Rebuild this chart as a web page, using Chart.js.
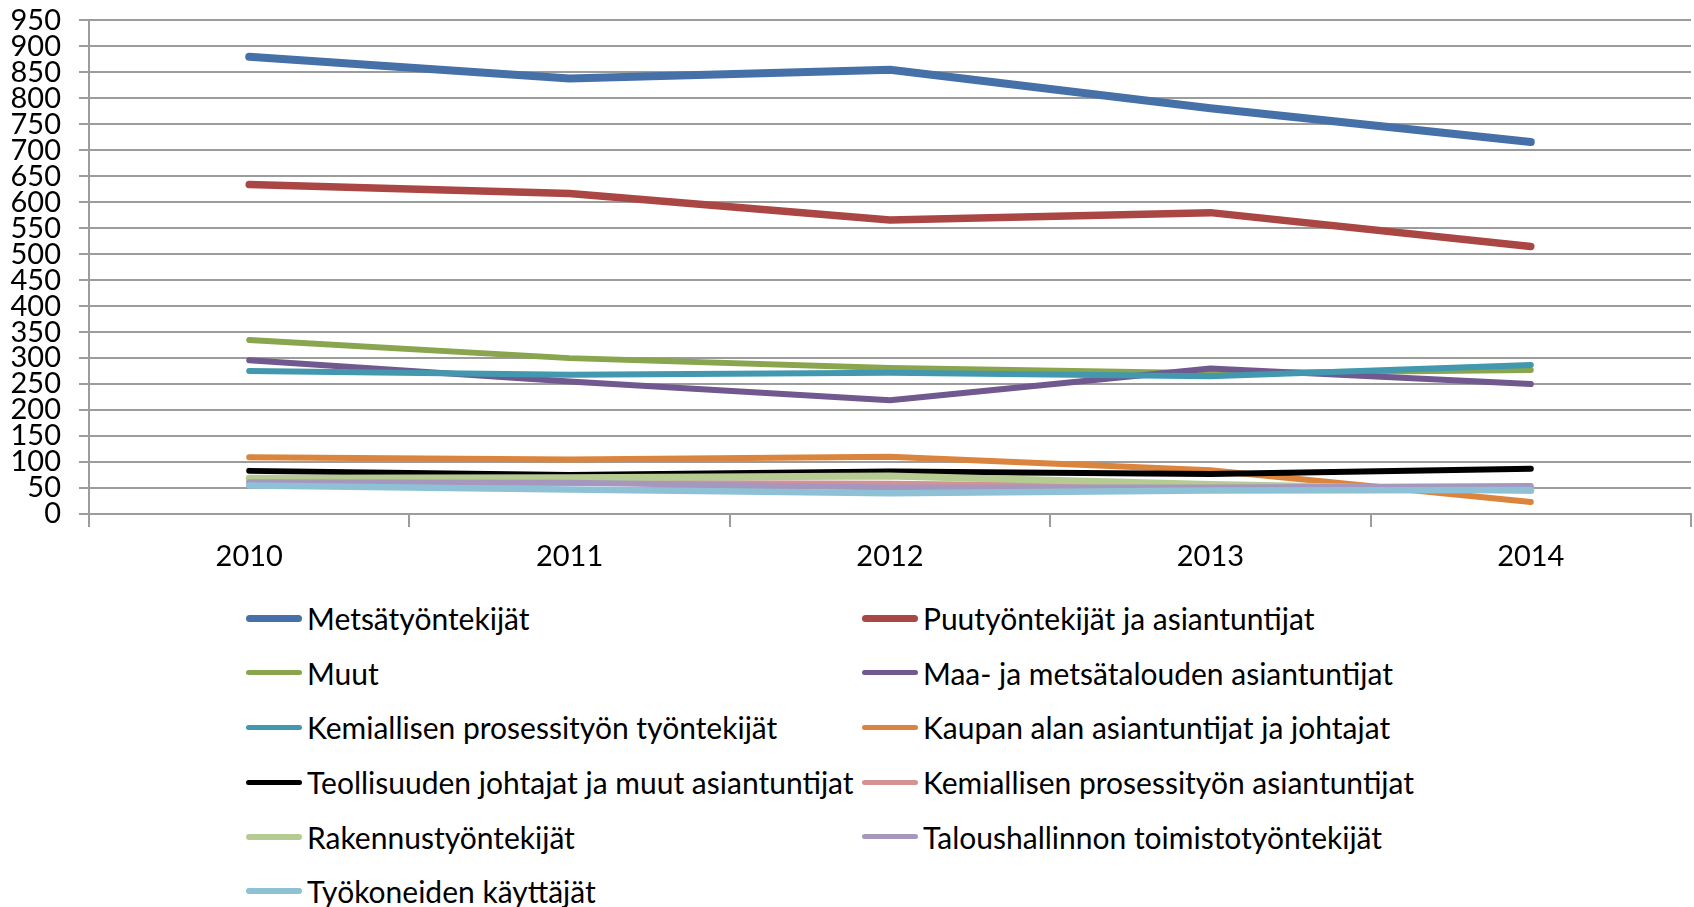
<!DOCTYPE html>
<html>
<head>
<meta charset="utf-8">
<script src="https://cdn.jsdelivr.net/npm/chart.js@4/dist/chart.umd.min.js"></script>
<style>
  html, body { margin: 0; padding: 0; background: #fff; }
  #wrap { position: relative; width: 1694px; height: 907px; overflow: hidden; }
  #chart-box { position: absolute; left: 0; top: -15px; width: 1694px; height: 605px; }
  #legend {
    position: absolute; left: 246px; top: 591px;
    display: grid; grid-template-columns: 616px auto; grid-auto-rows: 54.6px;
    font-family: Lato, sans-serif; font-size: 30px; color: #000;
  }
  .leg-item { display: flex; align-items: center; white-space: nowrap; }
  .leg-line { width: 56px; border-radius: 4px; margin-right: 5px; }
</style>
</head>
<body>
<div id="wrap">
  <div id="chart-box"><canvas id="lineChart"></canvas></div>
  <div id="legend"></div>
</div>
<script>
const years = ['2010', '2011', '2012', '2013', '2014'];
const yMin = 0;
const yMax = 950;
const yStep = 50;

const seriesNames = [
  'Metsätyöntekijät',
  'Puutyöntekijät ja asiantuntijat',
  'Muut',
  'Maa- ja metsätalouden asiantuntijat',
  'Kemiallisen prosessityön työntekijät',
  'Kaupan alan asiantuntijat ja johtajat',
  'Teollisuuden johtajat ja muut asiantuntijat',
  'Kemiallisen prosessityön asiantuntijat',
  'Rakennustyöntekijät',
  'Taloushallinnon toimistotyöntekijät',
  'Työkoneiden käyttäjät'
];

const metsatyontekijat = [880, 838, 855, 781, 716];
const puutyontekijat = [634, 617, 566, 580, 515];
const muut = [335, 300, 281, 271, 277];
const maaJaMetsatalous = [296, 255, 219, 280, 250];
const kemProsTyontekijat = [275, 268, 272, 265, 287];
const kaupanAla = [109, 105, 110, 84, 23];
const teollisuudenJohtajat = [83, 75, 82, 77, 87];
const kemProsAsiantuntijat = [62, 60, 58, 52, 50];
const rakennustyontekijat = [69, 70, 73, 57, 45];
const taloushallinto = [61, 60, 51, 51, 54];
const tyokoneet = [55, 47, 40, 45, 46];

const seriesValues = [
  metsatyontekijat, puutyontekijat, muut, maaJaMetsatalous, kemProsTyontekijat,
  kaupanAla, teollisuudenJohtajat, kemProsAsiantuntijat, rakennustyontekijat,
  taloushallinto, tyokoneet
];

const colors = [
  '#4570a8', '#aa4643', '#89a54e', '#71588f', '#4198af',
  '#db843d', '#000000', '#d49392', '#b5cb92', '#a597be', '#8ec1d6'
];
const widths = [8, 7.5, 6, 6, 6, 6, 6, 6, 7, 6, 6.5];

const datasets = seriesNames.map((name, i) => ({
  label: name,
  data: seriesValues[i],
  borderColor: colors[i],
  backgroundColor: colors[i],
  borderWidth: widths[i],
  borderCapStyle: 'round',
  borderJoinStyle: 'round',
  pointRadius: 0,
  tension: 0,
  order: seriesNames.length - i  // later series on top, like the original
}));

// two-column legend, built from the chart's datasets
const htmlLegend = {
  id: 'htmlLegend',
  afterUpdate(chart) {
    const box = document.getElementById('legend');
    box.innerHTML = '';
    chart.data.datasets.forEach(ds => {
      const item = document.createElement('div');
      item.className = 'leg-item';
      const line = document.createElement('span');
      line.className = 'leg-line';
      line.style.height = Math.round(ds.borderWidth - 1) + 'px';
      line.style.background = ds.borderColor;
      const txt = document.createElement('span');
      txt.textContent = ds.label;
      item.appendChild(line);
      item.appendChild(txt);
      box.appendChild(item);
    });
  }
};

const gridColor = '#9c9c9c';
const tickFont = { family: 'Lato, sans-serif', size: 29 };

new Chart(document.getElementById('lineChart'), {
  type: 'line',
  data: { labels: years, datasets },
  plugins: [htmlLegend],
  options: {
    responsive: true,
    maintainAspectRatio: false,
    animation: false,
    layout: { padding: { top: 2, right: 3, left: 0, bottom: 0 } },
    plugins: {
      legend: { display: false },
      tooltip: { enabled: false }
    },
    scales: {
      x: {
        offset: true,
        grid: {
          offset: true,
          drawOnChartArea: false,
          drawTicks: true,
          tickLength: 13,
          color: gridColor,
          lineWidth: 2
        },
        border: { color: gridColor, width: 2 },
        ticks: { color: '#000', font: tickFont, padding: 12, maxRotation: 0 },
        afterFit(scale) { scale.height = 76; }
      },
      y: {
        min: yMin,
        max: yMax,
        grid: { color: gridColor, lineWidth: 2, tickLength: 10 },
        border: { color: gridColor, width: 2 },
        ticks: { stepSize: yStep, autoSkip: false, color: '#000', font: tickFont, padding: 18 },
        afterFit(scale) { scale.width = 89; }
      }
    }
  }
});
</script>
</body>
</html>
